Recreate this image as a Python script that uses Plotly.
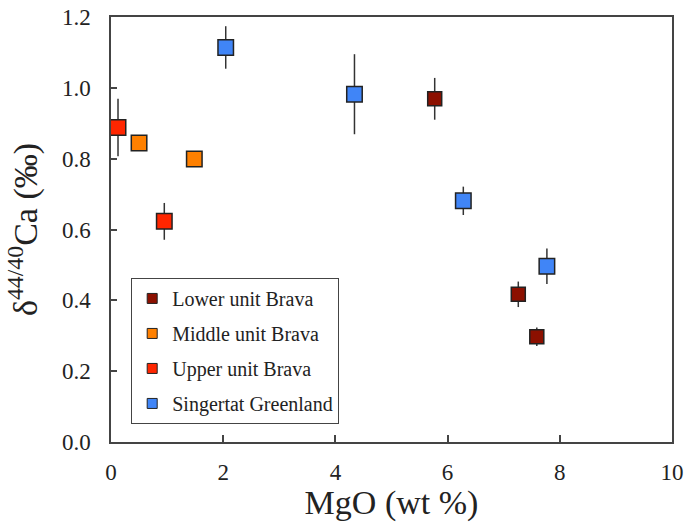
import plotly.graph_objects as go

# ---- data ----
series_names = ["Lower unit Brava", "Middle unit Brava", "Upper unit Brava", "Singertat Greenland"]
series_colors = ["#8C1000", "#FF8000", "#FF2600", "#4085F7"]

lower_mgo = [5.77, 7.26, 7.59]
lower_ca = [0.969, 0.417, 0.297]
lower_err = [0.059, 0.036, 0.026]

middle_mgo = [0.50, 1.485]
middle_ca = [0.844, 0.799]
middle_err = [0.0, 0.0]

upper_mgo = [0.125, 0.95]
upper_ca = [0.888, 0.623]
upper_err = [0.081, 0.052]

sing_mgo = [2.045, 4.34, 6.28, 7.77]
sing_ca = [1.114, 0.982, 0.681, 0.496]
sing_err = [0.060, 0.113, 0.040, 0.050]

x_ticks = [0, 2, 4, 6, 8, 10]
y_ticks = [0.0, 0.2, 0.4, 0.6, 0.8, 1.0, 1.2]
y_tick_labels = ["0.0", "0.2", "0.4", "0.6", "0.8", "1.0", "1.2"]

FONT = "Liberation Serif, Times New Roman, serif"
EDGE = "#222222"

fig = go.Figure()

datasets = [
    (lower_mgo, lower_ca, lower_err, 14),
    (middle_mgo, middle_ca, middle_err, 15.5),
    (upper_mgo, upper_ca, upper_err, 15.5),
    (sing_mgo, sing_ca, sing_err, 15.5),
]

for (xs, ys, es, sz), name, col in zip(datasets, series_names, series_colors):
    fig.add_trace(go.Scatter(
        x=xs, y=ys, mode="markers", name=name, showlegend=False,
        marker=dict(symbol="square", size=sz, color=col, line=dict(color=EDGE, width=1.5)),
        error_y=dict(type="data", array=es, visible=True, color="#333333", thickness=1.5, width=0),
    ))

# legend entries
for i, (name, col) in enumerate(zip(series_names, series_colors)):
    fig.add_trace(go.Scatter(
        x=[None], y=[None], mode="markers", name=name, legendgroup=f"g{i}",
        marker=dict(symbol="square", size=10, color=col, line=dict(color=EDGE, width=1)),
    ))

fig.update_layout(
    width=684, height=522,
    margin=dict(l=111, r=12, t=17, b=80, autoexpand=False),
    paper_bgcolor="white", plot_bgcolor="white",
    font=dict(family=FONT, color="#222222"),
    legend=dict(
        x=0.036, y=0.386, xanchor="left", yanchor="top",
        bgcolor="white", bordercolor="#444444", borderwidth=1,
        font=dict(family=FONT, size=20, color="#222222"),
        tracegroupgap=6,
    ),
    xaxis=dict(
        range=[0, 10], tickvals=x_ticks, ticktext=[str(v) for v in x_ticks],
        ticks="inside", ticklen=7, tickwidth=1.5, tickcolor="#444444",
        showline=True, linecolor="#444444", linewidth=1.5, mirror=True,
        showgrid=False, zeroline=False, automargin=False,
        ticklabeloverflow="allow",
        tickfont=dict(family=FONT, size=23, color="#222222"),
        ticklabelstandoff=9,
        title=dict(text="MgO (wt %)", font=dict(family=FONT, size=34, color="#222222"), standoff=5),
    ),
    yaxis=dict(
        range=[0, 1.2], tickvals=y_ticks, ticktext=y_tick_labels,
        ticks="inside", ticklen=6, tickwidth=1.5, tickcolor="#444444",
        showline=True, linecolor="#444444", linewidth=1.5, mirror=True,
        showgrid=False, zeroline=False, automargin=False,
        ticklabeloverflow="allow",
        tickfont=dict(family=FONT, size=23, color="#222222"),
        ticklabelstandoff=14,
        title=dict(text="δ<sup>44/40</sup>Ca (‰)", font=dict(family=FONT, size=34, color="#222222"), standoff=14),
    ),
)

fig.write_html("out.html", config={"displayModeBar": False},
               post_script="document.body.style.margin='0px';")
